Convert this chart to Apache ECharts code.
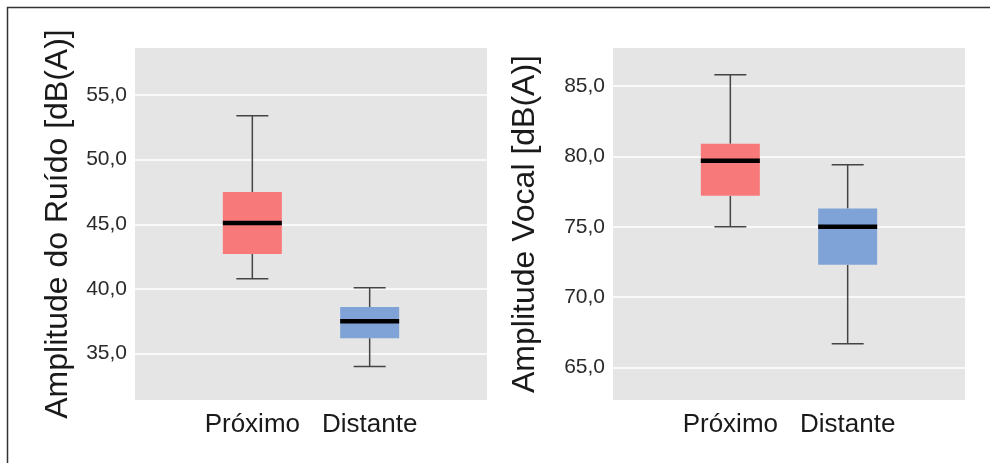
<!DOCTYPE html>
<html>
<head>
<meta charset="utf-8">
<script src="https://cdn.jsdelivr.net/npm/echarts@6/dist/echarts.min.js"></script>
<style>
html,body{margin:0;padding:0;background:#fff;}
#chart{width:990px;height:463px;}
</style>
</head>
<body>
<div id="chart"></div>
<script>
// ---- data ----
const categories = ['Próximo', 'Distante'];
// [lower whisker, Q1, median, Q3, upper whisker]
const noiseStats = [
  [40.8, 42.7, 45.1, 47.5, 53.4],
  [34.0, 36.2, 37.5, 38.6, 40.1]
];
const vocalStats = [
  [75.0, 77.2, 79.7, 80.9, 85.8],
  [66.7, 72.3, 75.0, 76.3, 79.4]
];
const noiseTicks = [35, 40, 45, 50, 55];
const vocalTicks = [65, 70, 75, 80, 85];
const noiseTitle = 'Amplitude do Ruído [dB(A)]';
const vocalTitle = 'Amplitude Vocal [dB(A)]';

// ---- styles ----
const FONT = '"Liberation Sans", Arial, sans-serif';
const boxColors = ['#F87979', '#7FA3D7'];
const axisCats = [''].concat(categories, ['']);

function fmt(v) { return v.toFixed(1).replace('.', ','); }

function renderBox(params, api) {
  const x = api.value(0);
  const lo = api.coord([x, api.value(1)]);
  const q1 = api.coord([x, api.value(2)]);
  const md = api.coord([x, api.value(3)]);
  const q3 = api.coord([x, api.value(4)]);
  const hi = api.coord([x, api.value(5)]);
  const cx = lo[0];
  const hw = 29.5, cw = 16;
  const wStyle = { stroke: '#444', lineWidth: 1.5 };
  return {
    type: 'group',
    children: [
      { type: 'line', shape: { x1: cx, y1: lo[1], x2: cx, y2: q1[1] }, style: wStyle },
      { type: 'line', shape: { x1: cx, y1: q3[1], x2: cx, y2: hi[1] }, style: wStyle },
      { type: 'line', shape: { x1: cx - cw, y1: lo[1], x2: cx + cw, y2: lo[1] }, style: wStyle },
      { type: 'line', shape: { x1: cx - cw, y1: hi[1], x2: cx + cw, y2: hi[1] }, style: wStyle },
      { type: 'rect', shape: { x: cx - hw, y: q3[1], width: hw * 2, height: q1[1] - q3[1] },
        style: { fill: boxColors[params.dataIndex] } },
      { type: 'line', shape: { x1: cx - hw, y1: md[1], x2: cx + hw, y2: md[1] },
        style: { stroke: '#000', lineWidth: 4.5 } }
    ]
  };
}

function toData(stats) {
  return stats.map((s, i) => [categories[i]].concat(s));
}

function xAxisCfg(gi) {
  return {
    type: 'category', gridIndex: gi, data: axisCats, boundaryGap: false,
    axisLine: { show: false }, axisTick: { show: false }, splitLine: { show: false },
    axisLabel: { interval: 0, margin: 12, fontSize: 26, color: '#1a1a1a', fontFamily: FONT }
  };
}
function yAxisCfg(gi, min, max, ticks, title, gap) {
  return {
    type: 'value', gridIndex: gi, min: min, max: max,
    name: title, nameLocation: 'middle', nameGap: gap,
    nameTextStyle: { fontSize: 32, color: '#1a1a1a', fontFamily: FONT },
    axisLine: { show: false },
    axisTick: { show: false, customValues: ticks },
    axisLabel: { customValues: ticks, formatter: fmt, margin: 8, fontSize: 21, color: '#2a2a2a', fontFamily: FONT },
    splitLine: { show: true, lineStyle: { color: '#ffffff', width: 1.5 } }
  };
}

const chart = echarts.init(document.getElementById('chart'), null, { renderer: 'canvas' });
chart.setOption({
  animation: false,
  backgroundColor: '#ffffff',
  grid: [
    { left: 135, top: 48, width: 352, height: 352, show: true, backgroundColor: '#E5E5E5', borderWidth: 0 },
    { left: 613, top: 48, width: 352, height: 352, show: true, backgroundColor: '#E5E5E5', borderWidth: 0 }
  ],
  xAxis: [xAxisCfg(0), xAxisCfg(1)],
  yAxis: [
    yAxisCfg(0, 31.42, 58.63, noiseTicks, noiseTitle, 61),
    yAxisCfg(1, 62.7, 87.7, vocalTicks, vocalTitle, 72)
  ],
  series: [
    { type: 'custom', xAxisIndex: 0, yAxisIndex: 0, renderItem: renderBox,
      encode: { x: 0, y: [1, 2, 3, 4, 5] }, data: toData(noiseStats) },
    { type: 'custom', xAxisIndex: 1, yAxisIndex: 1, renderItem: renderBox,
      encode: { x: 0, y: [1, 2, 3, 4, 5] }, data: toData(vocalStats) }
  ],
  graphic: [
    { type: 'line', shape: { x1: 7, y1: 7.5, x2: 990, y2: 7.5 }, style: { stroke: '#333', lineWidth: 1.5 } },
    { type: 'line', shape: { x1: 7.5, y1: 7, x2: 7.5, y2: 463 }, style: { stroke: '#333', lineWidth: 1.5 } }
  ]
});
</script>
</body>
</html>
